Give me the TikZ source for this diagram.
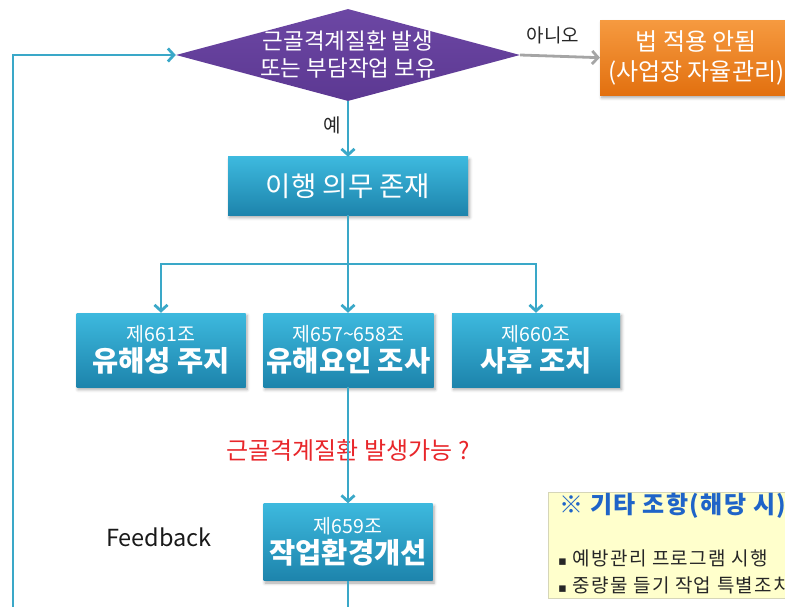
\documentclass[tikz,border=0pt]{standalone}
\usepackage{fontspec}
\setmainfont{Noto Sans CJK KR}
\newfontfamily\symfont{DejaVu Sans}
\usetikzlibrary{shapes.geometric,arrows.meta,shadows.blur}

\definecolor{tealtop}{HTML}{3DB9DE}
\definecolor{tealbot}{HTML}{1D84AC}
\definecolor{linkcol}{HTML}{3AA8C8}
\definecolor{purptop}{HTML}{6C47A4}
\definecolor{purpbot}{HTML}{5C3892}
\definecolor{orgtop}{HTML}{F69A40}
\definecolor{orgbot}{HTML}{E2700F}
\definecolor{noteyel}{HTML}{FFFFCC}
\definecolor{noteline}{HTML}{D6D6B8}
\definecolor{alertred}{HTML}{E8262A}
\definecolor{titleblue}{HTML}{1F64C8}
\definecolor{nogray}{HTML}{A5A5A5}

% article number on top, bold title below
\newcommand\artbox[2]{{\fontsize{19.5}{21}\selectfont #1}\\{\bfseries #2}}

\begin{document}
\begin{tikzpicture}[x=1pt,y=-1pt,
  softshadow/.style={blur shadow={shadow xshift=1.5pt,shadow yshift=-2.5pt,
      shadow blur radius=3pt,shadow opacity=35}},
  tealbox/.style={rectangle,inner sep=2pt,top color=tealtop,bottom color=tealbot,
      text=white,align=center,softshadow,font=\fontsize{28.5}{30}\selectfont},
  decision/.style={diamond,minimum width=344pt,minimum height=92pt,inner sep=0pt,
      top color=purptop,bottom color=purpbot},
  dectext/.style={text=white,align=center,inner sep=0pt,font=\fontsize{22.5}{27}\selectfont},
  orangebox/.style={rectangle,inner sep=2pt,top color=orgtop,bottom color=orgbot,
      text=white,align=center,softshadow,font=\fontsize{24}{30}\selectfont},
  flow/.style={draw=linkcol,line width=2.8pt,-{Straight Barb[length=6pt,width=13pt]}},
  link/.style={draw=linkcol,line width=2.8pt},
  noflow/.style={draw=nogray,line width=2.8pt,-{Straight Barb[length=6pt,width=13pt]}},
  smalllabel/.style={inner sep=1pt,text=black!85,font=\fontsize{19}{21}\selectfont},
  notebox/.style={rectangle,fill=noteyel,draw=noteline,line width=0.8pt,inner sep=0pt},
  notetitle/.style={anchor=west,inner sep=0pt,text=titleblue,
      font=\fontsize{24}{26}\selectfont\bfseries\addfontfeature{LetterSpace=6}},
  noteitem/.style={anchor=west,inner sep=0pt,text=black!85,
      font=\fontsize{19}{21}\selectfont\addfontfeature{LetterSpace=7}},
]
\useasboundingbox (0,0) rectangle (785,607);
\clip (0,0) rectangle (785,607);

% decision diamond and its text
\node[decision] (dec) at (348,55) {};
\node[dectext] (dectxt) at (dec.center) {근골격계질환 발생\\또는 부담작업 보유};

% outcome when the law does not apply
\node[orangebox,anchor=north west,minimum width=192pt,minimum height=75pt] (none) at (600,20)
  {법 적용 안됨\\(사업장 자율관리)};

% duty box
\node[tealbox,minimum width=240pt,minimum height=58pt,font=\fontsize{27.5}{30}\selectfont] (duty) at (348,186) {이행 의무 존재};

% three obligations
\node[tealbox,minimum width=169pt,minimum height=74pt] (hz1) at (161,350) {\artbox{제661조}{유해성 주지}};
\node[tealbox,minimum width=170pt,minimum height=74pt] (hz2) at (348.5,350) {\artbox{제657\textasciitilde658조}{유해요인 조사}};
\node[tealbox,minimum width=168pt,minimum height=74pt] (hz3) at (536,350) {\artbox{제660조}{사후 조치}};

% improvement box
\node[tealbox,minimum width=169pt,minimum height=77pt] (env) at (348,542) {\artbox{제659조}{작업환경개선}};

% question between survey and improvement
\node[inner sep=0pt,text=alertred,font=\fontsize{24}{26}\selectfont] (ask) at (348,450) {근골격계질환 발생가능 ?};

% feedback label
\node[inner sep=0pt,text=black!90,font=\fontsize{23.5}{26}\selectfont] (fb) at (159,537) {Feedback};

% other provisions note
\node[notebox,anchor=north west,minimum width=250pt,minimum height=106pt] (note) at (548,492) {};
\node[notetitle] (notehead) at (559,506) {※ 기타 조항(해당 시)};
\node[noteitem] (item1) at (558,558) {{\symfont\fontsize{13}{14}\selectfont ▪} 예방관리 프로그램 시행};
\node[noteitem] (item2) at (558,585) {{\symfont\fontsize{13}{14}\selectfont ▪} 중량물 들기 작업 특별조치};

% connectors
\draw[noflow] (dec.east) -- (none.west);
\node[smalllabel] (nolab) at (553,35) {아니오};

\draw[flow] (dec.south) -- (duty.north);
\node[smalllabel] (yeslab) at (332,125) {예};

\coordinate (split) at (348,264);
\draw[link] (duty.south) -- (split);
\draw[flow] (split) -| (hz1.north);
\draw[flow] (split) -- (hz2.north -| split);
\draw[flow] (split) -| (hz3.north);

\draw[flow] (hz2.south -| split) -- (env.north);

\coordinate (envout) at (348,620);
\draw[link] (env.south) -- (envout);

\coordinate (fbstart) at (13,620);
\draw[flow] (fbstart) |- (dec.west);
\end{tikzpicture}
\end{document}
